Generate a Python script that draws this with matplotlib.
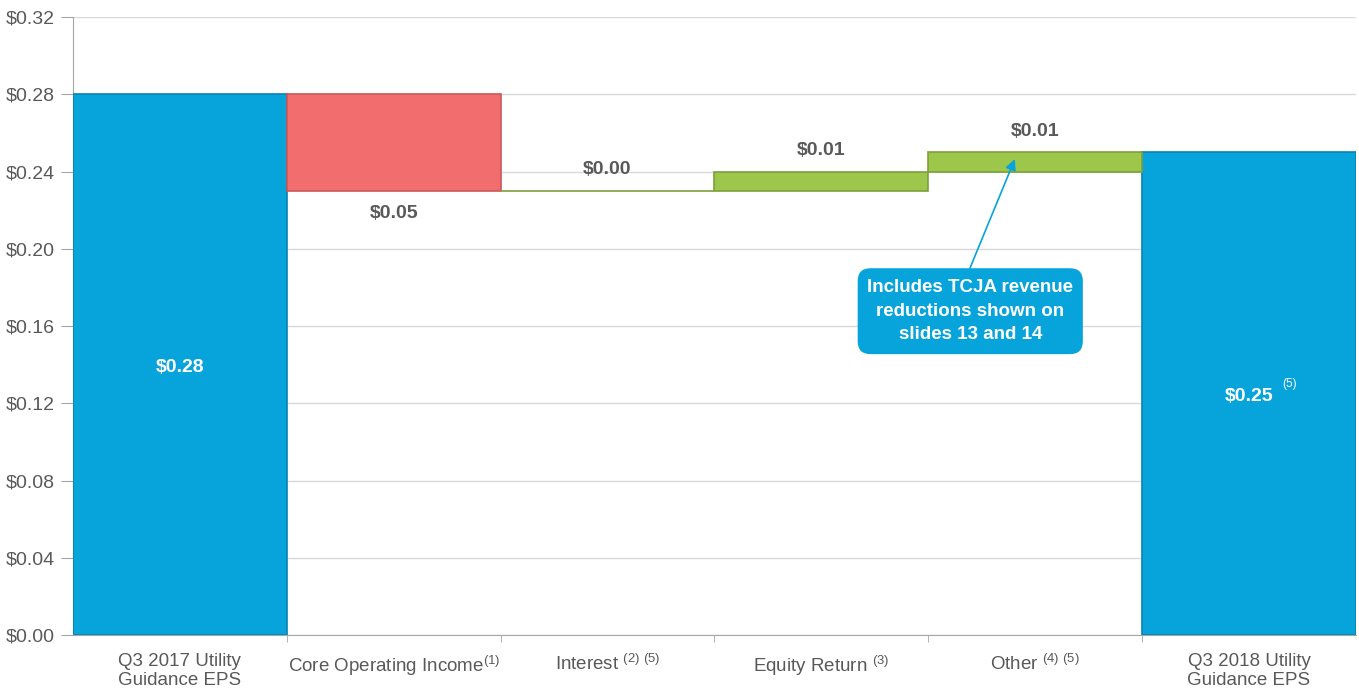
import numpy as np
import matplotlib.pyplot as plt
from matplotlib.patches import FancyBboxPatch

plt.rcParams['font.family'] = ['Liberation Sans', 'DejaVu Sans']

# data
categories = ['Q3 2017 Utility\nGuidance EPS',
              'Core Operating Income$^{\\mathregular{(1)}}$',
              'Interest $^{\\mathregular{(2)\\ (5)}}$',
              'Equity Return $^{\\mathregular{(3)}}$',
              'Other $^{\\mathregular{(4)\\ (5)}}$',
              'Q3 2018 Utility\nGuidance EPS']
start_value = 0.28
deltas = [-0.05, 0.00, 0.01, 0.01]
end_value = 0.25
delta_labels = ['$0.05', '$0.00', '$0.01', '$0.01']

blue = '#07A3DB'
red = '#F26D6E'
green = '#9CC74B'
grey = '#595959'

fig = plt.figure(figsize=(13.59, 6.91), dpi=100)
ax = fig.add_axes([0.0537, 0.081, 0.944, 0.894])

x = np.arange(len(categories))

# end bars
ax.bar([0, 5], [start_value, end_value], width=1.0, color=blue,
       edgecolor='#0784B3', linewidth=1.2, zorder=3)

# floating bars
running = start_value
for i, d in enumerate(deltas):
    new = running + d
    bottom = min(running, new)
    h = abs(d)
    if d < 0:
        col, ec = red, '#C85858'
    else:
        col, ec = green, '#7E9F3C'
    ax.bar(i + 1, h, bottom=bottom, width=1.0, color=col, edgecolor=ec,
           linewidth=1.2, zorder=3)
    if d < 0:
        ax.text(i + 1, bottom - 0.007, delta_labels[i], ha='center', va='top',
                fontsize=14, fontweight='bold', color=grey)
    else:
        ax.text(i + 1, bottom + h + 0.0065, delta_labels[i], ha='center',
                va='bottom', fontsize=14, fontweight='bold', color=grey)
    running = new

ax.text(0, start_value / 2 - 0.0015, '$%.2f' % start_value, ha='center',
        va='center', fontsize=14, fontweight='bold', color='white', zorder=4)
ax.text(5, end_value / 2 - 0.0015, '$%.2f' % end_value, ha='center',
        va='center', fontsize=14, fontweight='bold', color='white', zorder=4)
ax.text(5.155, end_value / 2 + 0.002, '(5)', ha='left', va='bottom',
        fontsize=8.5, color='white', zorder=4)

# callout
box_x, box_y, box_w, box_h = 3.17, 0.1455, 1.053, 0.0445
box = FancyBboxPatch((box_x, box_y), box_w, box_h,
                     boxstyle='round,pad=0,rounding_size=0.06',
                     mutation_aspect=0.1107, facecolor=blue,
                     edgecolor='none', zorder=5)
ax.add_patch(box)
ax.text(box_x + box_w / 2, box_y + box_h / 2,
        'Includes TCJA revenue\nreductions shown on\nslides 13 and 14',
        ha='center', va='center', fontsize=13.5, fontweight='bold',
        color='white', linespacing=1.5, zorder=6)
ax.annotate('', xy=(3.905, 0.2465), xytext=(3.695, box_y + box_h),
            arrowprops=dict(arrowstyle='-|>', color=blue, lw=1.2,
                            mutation_scale=16, shrinkA=0, shrinkB=0),
            zorder=5)

ax.set_xlim(-0.5, 5.5)
ax.set_ylim(0, 0.32)
ax.set_yticks(np.arange(0, 0.321, 0.04))
ax.set_yticklabels(['$%.2f' % v for v in np.arange(0, 0.321, 0.04)])
ax.set_xticks(x)
ax.set_xticklabels(categories, fontsize=13.5, color=grey, linespacing=1.15)
ax.set_xticks(np.arange(0.5, 5.0, 1.0), minor=True)
ax.tick_params(axis='x', which='major', length=0, pad=13)
ax.tick_params(axis='x', which='minor', length=5, color='#A6A6A6')
ax.tick_params(axis='y', labelsize=14, labelcolor=grey, length=9,
               color='#A6A6A6', pad=4)

ax.grid(axis='y', color='#D9D9D9', linewidth=1, zorder=0)
ax.set_axisbelow(True)
for s in ['top', 'right']:
    ax.spines[s].set_visible(False)
for s in ['left', 'bottom']:
    ax.spines[s].set_color('#A6A6A6')

fig.savefig('out.png', dpi=100)
